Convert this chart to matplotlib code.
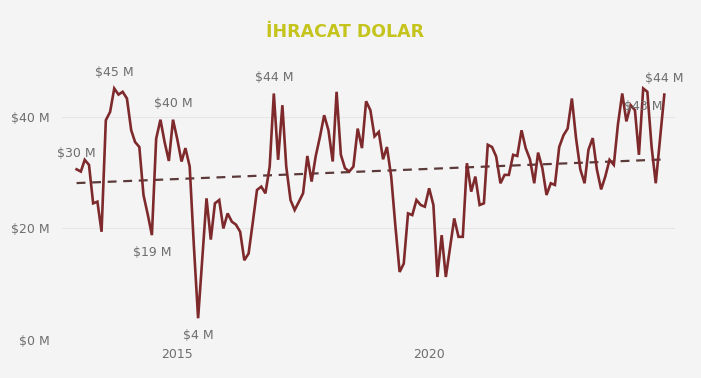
import matplotlib
matplotlib.use("Agg")
import matplotlib.pyplot as plt
import numpy as np
import pandas as pd

# monthly export values, $ millions, Jan 2013 - Sep 2024
values = [
    30.6, 30.2, 32.3, 31.4, 24.5, 24.8, 19.4, 39.4, 40.9, 45.1,
    44.0, 44.5, 43.3, 37.6, 35.5, 34.6, 26.0, 22.5, 18.8, 36.1,
    39.5, 35.5, 32.1, 39.5, 36.0, 32.0, 34.4, 31.1, 17.0, 3.9,
    14.5, 25.4, 18.0, 24.5, 25.1, 20.0, 22.7, 21.2, 20.7, 19.4,
    14.3, 15.5, 21.0, 26.9, 27.5, 26.3, 31.1, 44.2, 32.3, 42.1,
    31.1, 25.1, 23.3, 24.8, 26.3, 33.0, 28.4, 33.0, 36.5, 40.3,
    37.6, 32.0, 44.5, 33.2, 30.8, 30.2, 31.1, 37.9, 34.4, 42.8,
    41.2, 36.5, 37.3, 32.4, 34.6, 29.3, 20.5, 12.2, 13.7, 22.7,
    22.4, 25.1, 24.2, 23.9, 27.2, 24.2, 11.3, 18.8, 11.3, 16.7,
    21.8, 18.5, 18.5, 31.7, 26.6, 29.3, 24.2, 24.5, 35.0, 34.6,
    32.9, 28.1, 29.6, 29.6, 33.2, 33.0, 37.6, 34.4, 32.4, 28.1,
    33.6, 30.8, 26.0, 28.1, 27.8, 34.6, 36.7, 37.9, 43.3, 36.2,
    30.6, 28.1, 34.1, 36.2, 30.6, 27.0, 29.3, 32.3, 31.4, 38.7,
    44.2, 39.2, 42.1, 41.2, 33.2, 45.1, 44.5, 34.6, 28.1, 36.0,
    44.0,
]
months = pd.date_range("2013-01-01", periods=len(values), freq="MS")

# data labels: (index, text, above?)
label_idx = [0, 9, 23, 18, 29, 47, 135, 140]
label_txt = ["$30 M", "$45 M", "$40 M", "$19 M", "$4 M", "$44 M", "$43 M", "$44 M"]
label_up = [True, True, True, False, False, True, False, True]

yticks = [0, 20, 40]
ytick_labels = ["$0 M", "$20 M", "$40 M"]
xticks = ["2015-01-01", "2020-01-01"]
xtick_labels = ["2015", "2020"]

bg = "#f4f4f4"
line_col = "#7e2a2c"
trend_col = "#5c3a3a"
txt_col = "#6e6e6e"

plt.rcParams['font.family'] = ['DejaVu Sans']

fig = plt.figure(figsize=(7.01, 3.78), dpi=100, facecolor=bg)
ax = fig.add_axes([0.0884, 0.1005, 0.8746, 0.7275], facecolor=bg)

vals = np.array(values)
t = np.arange(len(vals))
ax.plot(months, vals, color=line_col, lw=1.9, solid_joinstyle="miter", zorder=3)

# linear trend line
k, b = np.polyfit(t, vals, 1)
ax.plot(months, k * t + b, color=trend_col, lw=1.6, ls=(0, (4, 3)), zorder=2)

for i, s, up in zip(label_idx, label_txt, label_up):
    dy = 7 if up else -8
    ax.annotate(s, (months[i], vals[i]), xytext=(0, dy), textcoords="offset points",
                ha="center", va="bottom" if up else "top", fontsize=9, color=txt_col)

ax.set_ylim(0, 49.3)
ax.set_xlim(months[0] - pd.Timedelta(days=106), months[-1] + pd.Timedelta(days=78))
ax.set_yticks(yticks)
ax.set_yticklabels(ytick_labels)
ax.set_xticks(pd.to_datetime(xticks))
ax.set_xticklabels(xtick_labels)
ax.tick_params(length=0, labelsize=9, labelcolor=txt_col)
ax.tick_params(axis="y", pad=9)
ax.tick_params(axis="x", pad=6)
ax.grid(axis="y", color="#e6e6e6", lw=0.8)
for sp in ax.spines.values():
    sp.set_visible(False)

fig.text(0.492, 0.915, "İHRACAT DOLAR", ha="center", va="center", fontsize=12.5,
         fontweight="bold", color="#c4c41c")

fig.savefig("out.png", dpi=100, facecolor=bg)
